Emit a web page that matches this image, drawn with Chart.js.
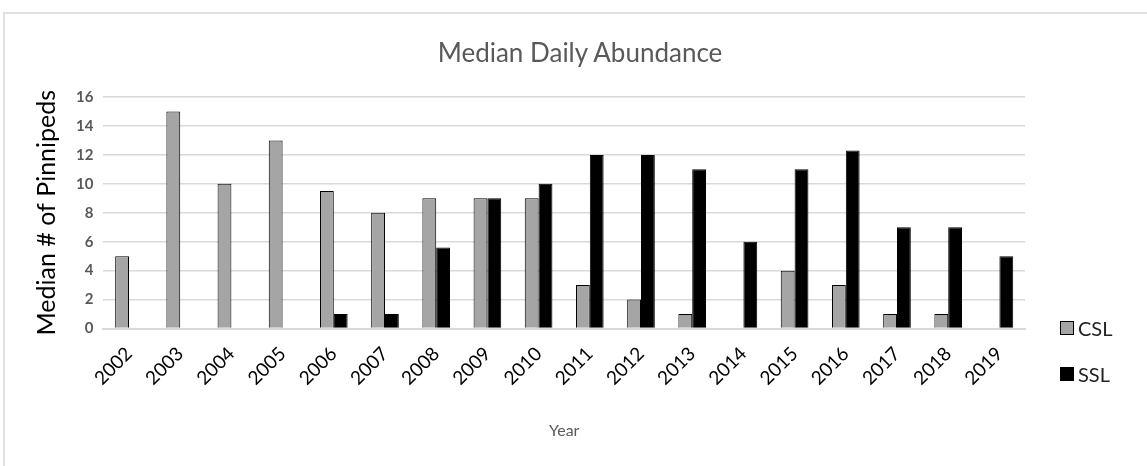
<!DOCTYPE html>
<html>
<head>
<meta charset="utf-8">
<script src="https://cdn.jsdelivr.net/npm/chart.js@4/dist/chart.umd.min.js"></script>
<style>
  html, body { margin: 0; padding: 0; background: #fff; }
  #wrap { position: relative; width: 1147px; height: 466px; overflow: hidden; }
  #frame { position: absolute; left: 3px; top: 12px; width: 1160px; height: 470px;
           border-top: 2px solid #e0e0e0; border-left: 2px solid #e0e0e0; }
  #c { position: absolute; left: 0; top: 0; }
  #title { position: absolute; left: 0; top: 37px; width: 1160px; text-align: center;
           font-family: Lato, sans-serif; font-size: 26px; line-height: 31px; color: #595959; }
  #legend { position: absolute; left: 1060px; top: 305px; font-family: Lato, sans-serif;
            font-size: 20px; color: #222; }
  #legend div { height: 46px; display: flex; align-items: center; }
  #legend span.box { display: inline-block; width: 14px; height: 14px; margin-right: 4px;
                     border: 1px solid #000; box-sizing: border-box; }
</style>
</head>
<body>
<div id="wrap">
  <div id="frame"></div>
  <canvas id="c" width="1147" height="466"></canvas>
  <div id="title">Median Daily Abundance</div>
  <div id="legend">
    <div><span class="box" style="background:#a5a5a5"></span>CSL</div>
    <div><span class="box" style="background:#000"></span>SSL</div>
  </div>
</div>
<script>
const years = ['2002', '2003', '2004', '2005', '2006', '2007', '2008', '2009', '2010',
  '2011', '2012', '2013', '2014', '2015', '2016', '2017', '2018', '2019'];
const csl = [5, 15, 10, 13, 9.5, 8, 9, 9, 9, 3, 2, 1, 0, 4, 3, 1, 1, 0];
const ssl = [0, 0, 0, 0, 1, 1, 5.6, 9, 10, 12, 12, 11, 6, 11, 12.3, 7, 7, 5];

const ctx = document.getElementById('c').getContext('2d');
new Chart(ctx, {
  type: 'bar',
  data: {
    labels: years,
    datasets: [
      { label: 'CSL', data: csl, backgroundColor: '#a5a5a5', borderColor: '#000', borderWidth: 1 },
      { label: 'SSL', data: ssl, backgroundColor: '#000', borderColor: '#000', borderWidth: 1 },
    ],
  },
  options: {
    responsive: false,
    animation: false,
    layout: { padding: { top: 97, right: 122, left: 28, bottom: 22 } },
    categoryPercentage: 0.54,
    barPercentage: 1.0,
    plugins: {
      legend: { display: false },
      tooltip: { enabled: false },
      title: { display: false },
    },
    scales: {
      x: {
        grid: { display: false },
        border: { color: '#d9d9d9', width: 2 },
        ticks: {
          color: '#000',
          font: { family: 'Lato', size: 19 },
          minRotation: 45,
          maxRotation: 45,
          padding: 6,
        },
        title: {
          display: true,
          text: 'Year',
          color: '#595959',
          font: { family: 'Lato', size: 16 },
          padding: { top: 25 },
        },
      },
      y: {
        min: 0,
        max: 16,
        ticks: {
          stepSize: 2,
          color: '#595959',
          font: { family: 'Lato', size: 15, weight: 'bold' },
          padding: 10,
        },
        grid: { color: '#d9d9d9', lineWidth: 1.5, drawTicks: false },
        border: { display: false },
        title: {
          display: true,
          text: 'Median # of Pinnipeds',
          color: '#000',
          font: { family: 'Lato', size: 25 },
          padding: { bottom: 4 },
        },
      },
    },
  },
});
</script>
</body>
</html>
